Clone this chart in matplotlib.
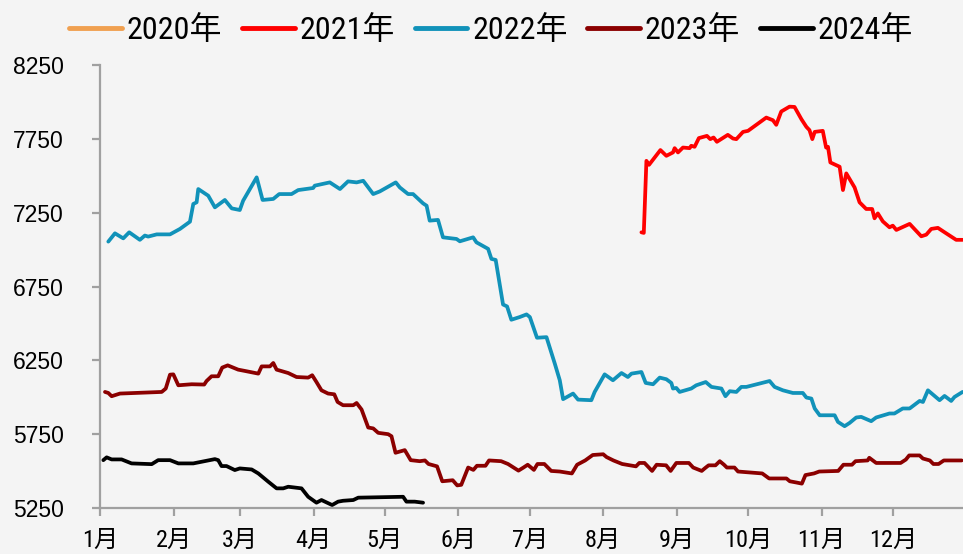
import matplotlib
matplotlib.use("Agg")
import matplotlib.pyplot as plt
import matplotlib.font_manager as fm
from matplotlib.font_manager import FontProperties

# ---------------- data (day of year, value) ----------------
month_labels = ["1月", "2月", "3月", "4月", "5月", "6月", "7月", "8月", "9月", "10月", "11月", "12月"]
month_starts = [0, 31, 59, 90, 120, 151, 181, 212, 243, 273, 304, 334]
yticks = [5250, 5750, 6250, 6750, 7250, 7750, 8250]
series_names = ["2020年", "2021年", "2022年", "2023年", "2024年"]

days_2020 = []
vals_2020 = []

days_2021 = [228.1, 229.1, 230.2, 231.3, 236.1, 238.6, 241.4, 242.1, 243.5, 245.6, 248.4, 249.1, 250.5,
             252.3, 255.7, 257.1, 258.5, 259.9, 264.5, 266.7, 268.1, 270.9, 273.0, 280.7, 283.5, 284.9,
             287.0, 290.5, 292.6, 295.5, 297.6, 298.9, 300.1, 301.1, 304.5, 305.9, 306.7, 307.7, 311.6,
             313.0, 314.4, 317.9, 320.0, 322.8, 325.3, 326.3, 327.7, 329.8, 332.6, 334.0, 335.5, 341.1,
             346.0, 348.1, 350.2, 353.0, 356.5, 360.7, 363.4]
vals_2021 = [7117, 7113, 7601, 7574, 7674, 7635, 7658, 7687, 7658, 7691, 7687, 7703, 7696,
             7755, 7770, 7748, 7759, 7730, 7777, 7752, 7748, 7797, 7804, 7894, 7876, 7845,
             7935, 7968, 7966, 7883, 7831, 7809, 7748, 7797, 7804, 7691, 7696, 7590, 7561,
             7403, 7516, 7421, 7320, 7275, 7275, 7212, 7245, 7191, 7151, 7162, 7133, 7174,
             7090, 7101, 7140, 7147, 7110, 7066, 7066]

days_2022 = [3.5, 6.3, 9.8, 12.3, 16.8, 18.9, 20.3, 23.9, 29.5, 33.7, 37.9, 39.3, 40.7, 41.4, 45.6,
             48.4, 52.6, 55.5, 58.9, 60.3, 66.0, 68.5, 73.0, 75.5, 80.7, 83.5, 89.8, 90.5, 96.8,
             101.1, 104.5, 108.1, 110.9, 115.1, 117.9, 124.6, 126.3, 129.8, 131.9, 136.1, 137.6,
             138.9, 142.4, 144.5, 150.2, 151.6, 157.2, 158.6, 163.5, 164.9, 166.7, 169.8, 171.5,
             173.3, 176.8, 179.7, 181.1, 184.1, 188.1, 191.6, 193.7, 195.1, 199.3, 201.4, 207.0,
             208.4, 212.6, 216.1, 219.7, 222.4, 223.9, 228.1, 229.9, 233.0, 235.8, 238.6, 240.7,
             241.4, 242.8, 244.2, 249.1, 251.2, 255.2, 257.6, 261.8, 263.5, 265.3, 268.1, 270.2,
             272.3, 282.1, 284.2, 287.7, 291.9, 296.1, 297.6, 299.7, 301.1, 303.2, 309.5, 310.9,
             313.7, 315.8, 318.6, 320.7, 324.9, 327.0, 332.6, 334.7, 338.2, 341.1, 345.3, 346.7,
             348.8, 353.7, 355.8, 358.6, 360.0, 363.4]
vals_2022 = [7054, 7110, 7076, 7117, 7066, 7095, 7088, 7103, 7103, 7140, 7189, 7309, 7320, 7410, 7365,
             7286, 7336, 7279, 7268, 7331, 7489, 7336, 7343, 7376, 7376, 7403, 7417, 7433, 7455,
             7410, 7462, 7455, 7466, 7376, 7394, 7455, 7421, 7376, 7376, 7313, 7297,
             7196, 7201, 7083, 7072, 7056, 7083, 7049, 7005, 6937, 6930, 6628, 6615,
             6525, 6543, 6561, 6543, 6403, 6407, 6228, 6115, 5987, 6025, 5984, 5980,
             6036, 6155, 6115, 6164, 6137, 6160, 6171, 6097, 6088, 6133, 6122, 6097,
             6059, 6063, 6036, 6059, 6081, 6103, 6070, 6059, 6007, 6041, 6036, 6070,
             6070, 6110, 6070, 6047, 6029, 6029, 5998, 5991, 5924, 5878, 5878, 5833,
             5804, 5826, 5863, 5867, 5838, 5863, 5890, 5890, 5924, 5924, 5975, 5968,
             6047, 5980, 6009, 5975, 6002, 6036]

days_2023 = [2.1, 3.5, 4.9, 8.4, 26.0, 27.7, 29.5, 30.9, 33.0, 38.6, 43.9, 44.9, 47.0, 49.8, 51.5,
             53.8, 58.2, 61.1, 66.7, 68.1, 71.6, 73.0, 74.4, 79.3, 82.8, 87.7, 89.4, 91.2, 93.3,
             96.1, 98.7, 100.1, 102.4, 106.7, 108.1, 110.2, 113.0, 115.1, 117.2, 121.4, 122.8,
             124.5, 128.4, 130.9, 134.7, 136.9, 138.4, 142.0, 144.2, 148.6, 150.5, 152.2, 155.1,
             157.3, 158.8, 162.4, 163.9, 169.0, 171.9, 176.3, 178.4, 180.2, 182.8, 184.3, 187.2,
             190.1, 193.7, 198.8, 201.0, 204.4, 207.6, 212.0, 213.4, 216.3, 220.0, 225.8, 227.2,
             229.4, 232.6, 234.5, 238.5, 240.4, 242.8, 248.1, 249.9, 253.5, 254.9, 256.4, 259.3,
             261.1, 262.9, 264.1, 267.3, 268.8, 279.0, 281.9, 289.2, 290.6, 293.6, 295.7, 297.2,
             300.8, 303.0, 311.0, 313.2, 316.8, 318.3, 323.4, 324.1, 327.0, 337.3, 339.5, 340.9,
             345.3, 346.7, 349.6, 351.1, 353.3, 355.5, 363.0]
vals_2023 = [6036, 6029, 6007, 6025, 6036, 6059, 6153, 6155, 6081, 6088, 6086, 6110, 6142, 6142, 6201,
             6216, 6187, 6178, 6160, 6209, 6209, 6232, 6187, 6164, 6137, 6133, 6149, 6103, 6047,
             6025, 6020, 5968, 5946, 5946, 5961, 5917, 5795, 5789, 5759, 5750, 5736,
             5624, 5642, 5574, 5567, 5572, 5548, 5532, 5431, 5438, 5403, 5407, 5524,
             5508, 5536, 5536, 5572, 5567, 5548, 5503, 5524, 5543, 5508, 5548, 5548,
             5501, 5497, 5484, 5543, 5572, 5609, 5614, 5595, 5572, 5548, 5532, 5555,
             5555, 5501, 5543, 5539, 5501, 5555, 5555, 5524, 5501, 5520, 5539, 5539,
             5567, 5543, 5524, 5524, 5497, 5484, 5450, 5450, 5431, 5422, 5415, 5473,
             5484, 5497, 5501, 5543, 5543, 5567, 5572, 5590, 5555, 5555, 5578, 5606,
             5606, 5585, 5572, 5548, 5548, 5572, 5572]

days_2024 = [1.4, 2.8, 4.9, 9.1, 13.3, 21.8, 24.5, 29.5, 33.0, 39.3, 48.4, 49.8, 51.2, 53.3, 56.8,
             58.9, 63.9, 66.7, 70.9, 74.4, 77.2, 79.3, 84.9, 87.7, 91.2, 93.3, 97.8, 100.3, 102.4,
             106.7, 108.8, 127.7, 129.1, 132.6, 136.1]
vals_2024 = [5574, 5593, 5579, 5579, 5552, 5547, 5574, 5574, 5552, 5552, 5581, 5574, 5534, 5534, 5507,
             5518, 5511, 5484, 5428, 5383, 5383, 5394, 5383, 5326, 5286, 5304, 5270, 5293, 5299,
             5304, 5320, 5326, 5293, 5293, 5286]

colors = ["#F0A050", "#FF0000", "#1192B9", "#8B0000", "#000000"]

# ---------------- fonts ----------------
installed = {f.name for f in fm.fontManager.ttflist}
narrow_font = next((n for n in ["Liberation Sans Narrow", "Arial Narrow", "Roboto Condensed",
                                "PT Sans Narrow", "Archivo Narrow", "Asap Condensed"] if n in installed),
                   "DejaVu Sans")
narrow = [narrow_font, "Noto Sans CJK SC"]

# ---------------- figure ----------------
BG = "#F4F4F4"
fig = plt.figure(figsize=(9.63, 5.54), dpi=100, facecolor=BG)
ax = fig.add_axes([100 / 963, 46 / 554, 864 / 963, 443 / 554], facecolor=BG)

all_days = [days_2020, days_2021, days_2022, days_2023, days_2024]
all_vals = [vals_2020, vals_2021, vals_2022, vals_2023, vals_2024]
handles = []
for name, d, v, c in zip(series_names, all_days, all_vals, colors):
    h, = ax.plot(d, v, color=c, lw=2.7, solid_joinstyle="round", solid_capstyle="round", label=name)
    handles.append(h)

ax.set_xlim(0, 364)
ax.set_ylim(5250, 8250)

ax.set_xticks(month_starts)
ax.set_xticklabels(month_labels, family=narrow, fontsize=17.5)
ax.set_yticks(yticks)
ax.set_yticklabels([str(t) for t in yticks], family=["Liberation Sans"], fontsize=16.5)

for s in ["top", "right"]:
    ax.spines[s].set_visible(False)
for s in ["left", "bottom"]:
    ax.spines[s].set_color("#A0A0A0")
    ax.spines[s].set_linewidth(1.6)
ax.tick_params(axis="x", direction="out", length=6, width=1.6, color="#A0A0A0", pad=9, labelcolor="black")
ax.tick_params(axis="y", direction="out", length=6, width=1.6, color="#A0A0A0", pad=20, labelcolor="black")

leg = fig.legend(handles=handles, loc="upper center", bbox_to_anchor=(0.51, 1.025), ncol=5,
                 frameon=False, prop=FontProperties(family=narrow, size=23),
                 handlelength=1.65, handletextpad=0.15, columnspacing=0.62)
for lh in leg.get_lines():
    lh.set_linewidth(3.5)

fig.savefig("out.png", dpi=100, facecolor=BG)
